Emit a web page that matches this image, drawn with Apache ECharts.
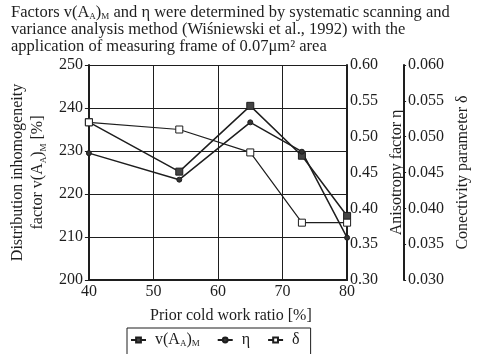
<!DOCTYPE html>
<html>
<head>
<meta charset="utf-8">
<script src="https://cdn.jsdelivr.net/npm/echarts@6/dist/echarts.min.js"></script>
<style>
  html, body { margin: 0; padding: 0; background: #fff; }
  #chart { width: 479px; height: 354px; }
</style>
</head>
<body>
<div id="chart"></div>
<script>
// cold work ratio [%]
const coldWork = [40, 54, 65, 73, 80];
// v(A_A)_M [%]  (left axis)
const vAA = [236.7, 225.2, 240.5, 228.9, 214.9];
// anisotropy factor eta (first right axis)
const eta = [0.477, 0.440, 0.520, 0.479, 0.359];
// conectivity parameter delta (second right axis)
const delta = [0.0520, 0.0510, 0.0478, 0.0380, 0.0380];

const ink = '#1e1e1e';
const serif = '"Liberation Serif", "DejaVu Serif", serif';

const rich = {
  a: { fontFamily: serif, fontSize: 16.5, fontWeight: 'normal', color: ink },
  s: { fontFamily: serif, fontSize: 9, fontWeight: 'normal', color: ink, verticalAlign: 'bottom', padding: [6, 0, 0, 0] },
  b: { fontFamily: serif, fontSize: 16, color: ink },
  t: { fontFamily: serif, fontSize: 9, color: ink, verticalAlign: 'bottom', padding: [7, 0, 0, 0] },
};

const pairs = (xs, ys) => xs.map((x, i) => [x, ys[i]]);

const chart = echarts.init(document.getElementById('chart'));

chart.setOption({
  animation: false,
  backgroundColor: '#fff',
  title: {
    left: 11,
    top: 4,
    padding: 0,
    text: '{a|Factors v(A}{s|A}{a|)}{s|M}{a| and η were determined by systematic scanning and}\n' +
      '{a|variance analysis method (Wiśniewski et al., 1992) with the}\n' +
      '{a|application of measuring frame of 0.07μm² area}',
    textStyle: { lineHeight: 17, fontWeight: 'normal', rich: rich },
  },
  grid: { left: 79, right: 127, top: 65, bottom: 74 },
  xAxis: {
    type: 'value',
    min: 40, max: 80, interval: 10,
    axisLine: { show: true, lineStyle: { color: ink, width: 2 } },
    axisTick: { show: false },
    axisLabel: { fontFamily: serif, fontSize: 16, color: ink, margin: 4 },
    splitLine: { show: true, lineStyle: { color: ink, width: 1 } },
  },
  yAxis: [
    {
      type: 'value',
      min: 200, max: 250, interval: 10,
      axisLine: { show: true, lineStyle: { color: ink, width: 2 } },
      axisTick: { show: true, length: 4, lineStyle: { color: ink } },
      axisLabel: { fontFamily: serif, fontSize: 16, color: ink, margin: 6 },
      splitLine: { show: true, lineStyle: { color: ink, width: 1 } },
      name: '{b|Distribution inhomogeneity}\n{b|factor v(A}{t|A}{b|)}{t|M}{b| [%]}',
      nameLocation: 'middle',
      nameRotate: 90,
      nameGap: 34,
      nameTextStyle: { lineHeight: 20, rich: rich },
    },
    {
      type: 'value',
      position: 'right',
      min: 0.3, max: 0.6, interval: 0.05,
      axisLine: { show: true, lineStyle: { color: ink, width: 2 } },
      axisTick: { show: false },
      axisLabel: { fontFamily: serif, fontSize: 16, color: ink, margin: 3, formatter: v => v.toFixed(2) },
      splitLine: { show: false },
      name: 'Anisotropy factor η',
      nameLocation: 'middle',
      nameRotate: 90,
      nameGap: 38,
      nameTextStyle: { fontFamily: serif, fontSize: 16, color: ink },
    },
    {
      type: 'value',
      position: 'right',
      offset: 57,
      min: 0.03, max: 0.06, interval: 0.005,
      axisLine: { show: true, lineStyle: { color: ink, width: 2 } },
      axisTick: { show: true, length: 2, lineStyle: { color: ink } },
      axisLabel: { fontFamily: serif, fontSize: 16, color: ink, margin: 4, formatter: v => v.toFixed(3) },
      splitLine: { show: false },
      name: 'Conectivity parameter δ',
      nameLocation: 'middle',
      nameRotate: 90,
      nameGap: 48,
      nameTextStyle: { fontFamily: serif, fontSize: 16, color: ink },
    },
  ],
  legend: {
    left: 127,
    top: 328,
    padding: [4, 11, 8, 3],
    borderColor: ink,
    borderWidth: 1,
    itemWidth: 15,
    itemHeight: 6,
    itemGap: 17,
    data: ['vAA', 'eta', 'delta'],
    formatter: name => ({
      vAA: '{b|v(A}{t|A}{b|)}{t|M}',
      eta: '{b|η}',
      delta: '{b|δ}',
    })[name],
    textStyle: { rich: rich, color: ink, padding: [0, 0, 0, 4] },
  },
  graphic: [{
    type: 'text',
    left: 150,
    top: 308,
    style: { text: 'Prior cold work ratio [%]', font: '16px ' + serif, fill: ink },
  }],
  series: [
    {
      name: 'vAA',
      type: 'line',
      yAxisIndex: 0,
      data: pairs(coldWork, vAA),
      symbol: 'rect',
      symbolSize: 7,
      lineStyle: { color: ink, width: 1.5 },
      itemStyle: { color: '#444', borderColor: ink, borderWidth: 1 },
    },
    {
      name: 'eta',
      type: 'line',
      yAxisIndex: 1,
      data: pairs(coldWork, eta),
      symbol: 'circle',
      symbolSize: 5,
      lineStyle: { color: ink, width: 1.5 },
      itemStyle: { color: '#333', borderColor: ink, borderWidth: 1 },
    },
    {
      name: 'delta',
      type: 'line',
      yAxisIndex: 2,
      data: pairs(coldWork, delta),
      symbol: 'rect',
      symbolSize: 7,
      lineStyle: { color: ink, width: 1.2 },
      itemStyle: { color: '#fff', borderColor: ink, borderWidth: 1 },
    },
  ],
});
</script>
</body>
</html>
